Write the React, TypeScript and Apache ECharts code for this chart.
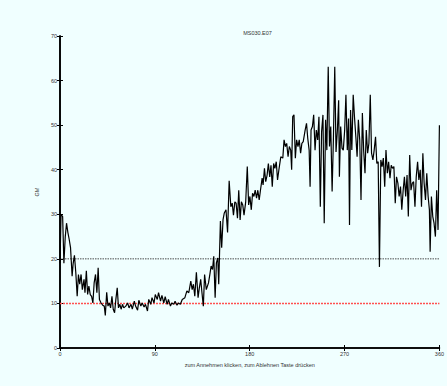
import React, { useEffect, useRef } from "react";
import * as echarts from "echarts";

const titleText = "MS030.E07";
const xAxisName = "zum Annehmen klicken, zum Ablehnen Taste drücken";
const yAxisName = "GM";
const xTicks = [0, 90, 180, 270, 360];
const yTicks = [0, 10, 20, 30, 40, 50, 60, 70];
const thresholdHigh = 20;
const thresholdLow = 10;

const angles = [
  0, 1, 2.5, 3.7, 5, 6.2, 7.5, 8.7, 10, 11.5, 12.5, 13.7, 15, 16.3, 17.5, 18.7, 20, 21.2, 22.8, 23.7,
  25, 26.2, 27.4, 28.7, 30, 31.2, 32.4, 33.7, 35, 36.2, 37.4, 39, 40.5, 42, 43, 44.3, 45.5, 46.8, 48, 49.3,
  50.5, 51.8, 53, 54.3, 55.5, 56.8, 58, 59.3, 60.5, 62.4, 64.2, 65.5, 67.4, 68.6, 70.5, 71.7, 73.6, 74.8, 76.7, 78,
  79.8, 81.1, 83, 84.2, 86.1, 87.3, 89.2, 90.4, 92.3, 93.5, 95.4, 96.7, 98.5, 99.8, 101.7, 102.9, 104.8, 106, 107.9, 109.2,
  111, 112.3, 114.2, 116, 118.5, 120.4, 122.2, 124.1, 125.4, 126.6, 127.9, 129.4, 131, 132.2, 133.5, 134.7, 136, 137.2, 138.8, 140.9,
  142.2, 143.4, 144.7, 145.9, 147.2, 148.4, 149.7, 150.6, 152.2, 153.4, 154.7, 155.9, 157.5, 159, 160.5, 162.1, 163.4, 164.6, 165.9, 167.1,
  168.4, 169.6, 170.9, 172.1, 173.4, 174.6, 176.2, 177.7, 179, 180.2, 181.5, 182.7, 184, 185.2, 186.5, 187.7, 189, 190.2, 191.8, 192.7,
  194, 195.2, 196.5, 197.7, 199, 200.2, 201.4, 202.7, 203.9, 205.2, 206.4, 207.7, 209.5, 211.4, 212.6, 213.9, 215.1, 216.4, 217.6, 218.9,
  219.8, 220.8, 222, 223.3, 224.5, 225.8, 227, 228.3, 229.5, 230.8, 232.6, 233.9, 235.1, 236.4, 237.3, 238.2, 239.5, 240.7, 242, 243.2,
  244.5, 245.7, 247, 248.2, 249.5, 250.7, 252, 253.2, 254.5, 255.7, 256.9, 258.2, 259.4, 260.7, 261.9, 263.2, 264.4, 265.1, 266.3, 267.6,
  268.8, 270.1, 271.3, 272.6, 273.8, 274.7, 275.7, 276.9, 278.2, 279.4, 280.7, 281.9, 283.1, 284.4, 285.6, 286.9, 288.1, 289.4, 290.6, 291.9,
  293.1, 294.4, 295.6, 296.9, 298.1, 299.4, 300.6, 301.9, 303.1, 304.4, 305.6, 306.8, 308.1, 309.3, 310.6, 311.8, 313.1, 314.3, 315.6, 316.8,
  318.1, 319.3, 320.6, 321.8, 323.1, 324.3, 325.6, 326.8, 328, 329.3, 330.5, 331.8, 333, 334.3, 335.5, 336.8, 338, 339.3, 340.5, 341.8,
  343, 344.3, 345.5, 346.8, 348, 349.3, 350.5, 351.2, 352.4, 353.7, 354.9, 356.2, 357.4, 358.7, 360,
];

const gmValues = [
  19, 30, 29.5, 19, 25, 28, 25.9, 24.4, 22.5, 16.1, 19, 20.8, 16.9, 11.6, 16.5, 14.3, 16.5, 13.1, 15.4, 12.4,
  17.3, 12, 13.9, 12, 11.6, 10.1, 14.6, 16.5, 12.4, 18, 10.9, 10.1, 9.6, 9.4, 7.3, 12.5, 9.4, 10.1, 9, 11.6,
  8.7, 7.9, 10.9, 13.5, 9, 9.8, 8.7, 9.8, 9, 9.4, 10.1, 9, 9.8, 8.7, 10.5, 9.4, 8.5, 10.7, 9.4, 10.1,
  9.2, 9.8, 8.3, 10.9, 9.8, 11.3, 10.1, 12, 10.9, 12.4, 10.5, 11.8, 10.1, 11.5, 9.8, 10.9, 9.4, 10.1, 9.8, 10.5,
  9.6, 10.1, 9.8, 10.9, 11.3, 12.8, 12.4, 15, 13.1, 14.3, 11.6, 17, 11.3, 13.5, 15.4, 12.4, 9.4, 16.5, 13.1, 14.6,
  16.5, 18.4, 17.6, 20.6, 11.3, 19.1, 20.2, 14.3, 28.5, 22.5, 28.8, 30.3, 31, 25.9, 37.5, 31.7, 32.5, 29.8, 32.8, 32.5,
  29.1, 35.4, 28.7, 32.8, 32.1, 29.8, 32.8, 40.7, 32.1, 34, 31, 34.7, 34, 35.4, 33.6, 35.4, 33.2, 35.4, 38.1, 36.6,
  40.3, 37.3, 38.8, 41.4, 38.4, 41, 36.2, 41.4, 40.3, 41.8, 37.7, 40, 42.9, 42.6, 46.7, 45.2, 45.9, 42.9, 45.2, 44.4,
  40, 51.9, 52.3, 42.6, 46.7, 45.2, 46.7, 43.7, 45.9, 46.3, 48.9, 50.4, 47, 44.4, 36.2, 48.9, 49.7, 52.3, 44.4, 48.9,
  46.7, 51.9, 31.7, 48.5, 52.3, 28, 51.2, 44.4, 63.1, 45.2, 49.7, 35.1, 46.7, 63.1, 44, 48.9, 55.6, 38.4, 49.7, 44.8,
  44.4, 48.9, 56.8, 44.4, 51.5, 27.6, 53.4, 44.4, 56.8, 51.9, 47.4, 42.9, 51.2, 46.7, 33.2, 52.7, 44.4, 39.2, 48.9, 43.7,
  45.9, 56.8, 43.7, 42.2, 44.4, 47.4, 41.4, 41.8, 18.2, 42.2, 40.7, 42.6, 36.2, 44.4, 39.2, 41.8, 38.1, 41, 40.3, 40.7,
  32.5, 38.4, 37, 34, 36.2, 31, 35.4, 38.4, 34, 38.8, 29.5, 43.3, 35.4, 37, 37.3, 31.7, 38.4, 41.8, 37.7, 40,
  31.7, 43.7, 37, 33.2, 39.2, 34, 31, 21.6, 34, 29.5, 28, 25, 35.4, 26.5, 50,
];

const FONT = "Liberation Sans, Arial, sans-serif";

export default function App() {
  const ref = useRef<HTMLDivElement>(null);

  useEffect(() => {
    document.body.style.margin = "0";
    const chart = echarts.init(ref.current!, null, { renderer: "svg" });
    const lineData = angles.map((a, i) => [a, gmValues[i]]);
    const xMin = xTicks[0];
    const xMax = xTicks[xTicks.length - 1];
    const tickLabel = { fontSize: 5.5, color: "#333", fontFamily: FONT };
    const frameLine = { show: true, lineStyle: { color: "#000", width: 1.6 } };
    const innerTick = { show: true, inside: true, length: 3, lineStyle: { color: "#000", width: 1 } };
    chart.setOption({
      animation: false,
      backgroundColor: "#f0ffff",
      title: {
        text: titleText,
        left: 252.5,
        top: 25,
        textAlign: "center",
        textStyle: { fontSize: 5.5, fontWeight: "normal", color: "#333", fontFamily: FONT },
      },
      grid: { left: 60, right: 2, top: 36, bottom: 38, containLabel: false },
      xAxis: [
        {
          type: "value",
          min: xMin,
          max: xMax,
          interval: 90,
          name: xAxisName,
          nameLocation: "middle",
          nameGap: 11,
          nameTextStyle: { fontSize: 5.5, color: "#333", fontFamily: FONT },
          axisLine: frameLine,
          axisTick: innerTick,
          axisLabel: { ...tickLabel, margin: 3 },
          splitLine: { show: false },
        },
        {
          type: "value",
          position: "top",
          min: xMin,
          max: xMax,
          interval: 90,
          axisLine: frameLine,
          axisTick: innerTick,
          axisLabel: { show: false },
          splitLine: { show: false },
        },
      ],
      yAxis: [
        {
          type: "value",
          min: yTicks[0],
          max: yTicks[yTicks.length - 1],
          interval: 10,
          name: yAxisName,
          nameLocation: "middle",
          nameGap: 10,
          nameRotate: 90,
          nameTextStyle: { fontSize: 5.5, color: "#333", fontFamily: FONT },
          axisLine: frameLine,
          axisTick: innerTick,
          axisLabel: { ...tickLabel, margin: 3 },
          splitLine: { show: false },
        },
        {
          type: "value",
          position: "right",
          min: yTicks[0],
          max: yTicks[yTicks.length - 1],
          interval: 10,
          axisLine: frameLine,
          axisTick: innerTick,
          axisLabel: { show: false },
          splitLine: { show: false },
        },
      ],
      series: [
        {
          name: "low",
          type: "line",
          data: [[xMin, thresholdLow], [xMax, thresholdLow]],
          showSymbol: false,
          symbol: "none",
          silent: true,
          color: "#ff5050",
          lineStyle: { color: "#ff5050", type: [2, 1], width: 1.5 },
          z: 2,
        },
        {
          name: "high",
          type: "line",
          data: [[xMin, thresholdHigh], [xMax, thresholdHigh]],
          showSymbol: false,
          symbol: "none",
          silent: true,
          color: "#222",
          lineStyle: { color: "#222", type: [1.5, 1], width: 0.8 },
          z: 2,
        },
        {
          name: "GM",
          type: "line",
          data: lineData,
          showSymbol: false,
          symbol: "none",
          color: "#000",
          lineStyle: { color: "#000", width: 1.2 },
          clip: true,
          z: 3,
        },
      ],
    });
    return () => chart.dispose();
  }, []);

  return (
    <div
      ref={ref}
      style={{ position: "fixed", left: 0, top: 0, width: 447, height: 386 }}
    />
  );
}
